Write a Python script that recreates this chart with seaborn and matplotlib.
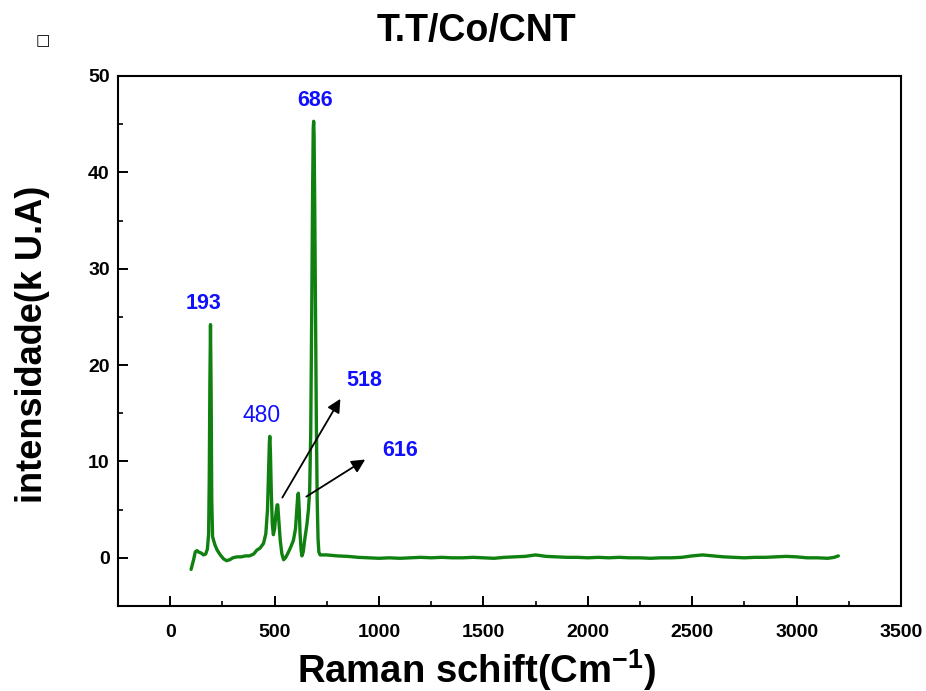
import matplotlib
matplotlib.use("Agg")
import matplotlib.pyplot as plt
import seaborn as sns
import pandas as pd
from matplotlib.ticker import MultipleLocator

# ---- data ----
raman_shift = [100, 112, 120, 128, 136, 148, 160, 170, 178, 184, 187, 190, 193, 196, 199, 203,
               208, 215, 225, 240, 255, 270, 285, 300, 320, 340, 360, 380, 400, 415, 430, 447,
               458, 466, 471, 475, 477, 480, 484, 489, 494, 500, 506, 512, 515, 520, 527, 535,
               543, 552, 562, 575, 590, 600, 606, 611, 614, 618, 622, 627, 631, 637, 645, 655,
               662, 668, 673, 678, 682, 685, 687, 689, 692, 696, 700, 704, 708, 712, 718, 730,
               750, 800, 850, 900, 950, 1000, 1050, 1100, 1150, 1200, 1250, 1300, 1350, 1400,
               1450, 1500, 1550, 1600, 1650, 1700, 1750, 1800, 1850, 1900, 1950, 2000, 2050,
               2100, 2150, 2200, 2250, 2300, 2350, 2400, 2450, 2500, 2550, 2600, 2650, 2700,
               2750, 2800, 2850, 2900, 2950, 3000, 3050, 3100, 3150, 3180, 3200]
intensity = [-1.2, -0.2, 0.6, 0.75, 0.6, 0.5, 0.3, 0.4, 0.9, 2.5, 8.0, 18.0, 24.2, 17.0, 6.0, 2.2,
             1.8, 1.3, 0.8, 0.3, -0.1, -0.3, -0.2, 0.0, 0.1, 0.1, 0.2, 0.2, 0.4, 0.8, 1.0, 1.5,
             2.5, 5.0, 9.0, 12.0, 12.6, 11.0, 7.0, 3.5, 2.4, 3.0, 4.5, 5.5, 5.5, 4.0, 1.8, 0.4,
             -0.2, 0.0, 0.4, 1.0, 1.8, 3.0, 5.0, 6.5, 6.7, 5.0, 2.5, 0.8, 0.2, 0.6, 2.0, 3.5,
             5.0, 7.0, 13.0, 26.0, 38.0, 44.5, 45.3, 44.0, 37.0, 25.0, 14.0, 6.0, 2.0, 0.6, 0.3, 0.3,
             0.3, 0.2, 0.15, 0.05, 0.0, -0.05, 0.0, -0.05, 0.0, 0.05, 0.0, 0.05, 0.0, 0.0,
             0.05, 0.0, -0.05, 0.05, 0.1, 0.15, 0.3, 0.15, 0.1, 0.05, 0.05, 0.0, 0.05,
             0.0, 0.05, 0.0, 0.0, -0.05, 0.0, 0.0, 0.05, 0.2, 0.3, 0.2, 0.1, 0.05,
             0.0, 0.05, 0.05, 0.1, 0.15, 0.1, 0.0, 0.0, -0.05, 0.05, 0.2]

peak_labels = ["193", "480", "686", "518", "616"]
peak_label_x = [158, 436, 695, 930, 1102]
peak_label_y = [26.35, 14.8, 47.5, 18.45, 11.15]
peak_label_bold = [True, False, True, True, True]

arrow_starts = [(537, 6.25), (652, 6.35)]
arrow_ends = [(815, 16.5), (934, 10.2)]

x_ticks = [0, 500, 1000, 1500, 2000, 2500, 3000, 3500]
y_ticks = [0, 10, 20, 30, 40, 50]

title = "T.T/Co/CNT"
x_label = r"Raman schift(Cm$^{\mathbf{-1}}$)"
y_label = "intensidade(k U.A)"

# ---- style ----
sns.set_style("ticks")
plt.rcParams["font.family"] = ["Liberation Sans", "DejaVu Sans"]
plt.rcParams["mathtext.fontset"] = "custom"
plt.rcParams["mathtext.rm"] = "Liberation Sans"
plt.rcParams["mathtext.bf"] = "Liberation Sans:bold"
plt.rcParams["text.color"] = "black"
plt.rcParams["axes.labelcolor"] = "black"
plt.rcParams["xtick.color"] = "black"
plt.rcParams["ytick.color"] = "black"

fig = plt.figure(figsize=(9.26, 6.91), dpi=100)
ax = fig.add_axes([118 / 926, 1 - 606 / 691, (901 - 118) / 926, (606 - 76) / 691])

df = pd.DataFrame({"shift": raman_shift, "intensity": intensity})
sns.lineplot(data=df, x="shift", y="intensity", ax=ax, color="#108010",
             linewidth=2.4, sort=False, estimator=None)

ax.set_xlim(-250, 3500)
ax.set_ylim(-5, 50)
ax.set_xticks(x_ticks)
ax.set_yticks(y_ticks)
ax.xaxis.set_minor_locator(MultipleLocator(250))
ax.yaxis.set_minor_locator(MultipleLocator(5))

for s in ax.spines.values():
    s.set_visible(True)
    s.set_linewidth(1.5)
    s.set_color("black")

ax.tick_params(axis="both", which="major", direction="in", length=7, width=1.4,
               labelsize=14, color="black", labelcolor="black")
ax.tick_params(axis="both", which="minor", direction="in", length=3.5, width=1.2, color="black")
ax.tick_params(axis="x", which="major", pad=13)
ax.tick_params(axis="y", which="major", pad=6)
for lab in ax.get_xticklabels() + ax.get_yticklabels():
    lab.set_fontweight("bold")

ax.set_xlabel(x_label, fontsize=27.5, fontweight="bold", color="black")
ax.set_ylabel(y_label, fontsize=26, fontweight="bold", color="black")
ax.xaxis.set_label_coords((477 - 118) / 783, (606 - 647) / 530)
ax.yaxis.set_label_coords((50 - 118) / 783, (606 - 344) / 530)

fig.text(476 / 926, 1 - 31 / 691, title, ha="center", va="center",
         fontsize=27, fontweight="bold", color="black")
fig.text(43 / 926, 1 - 41 / 691, "\u25a1", ha="center", va="center",
         fontsize=11, family=["DejaVu Sans"], color="black")

for lab, lx, ly, bold in zip(peak_labels, peak_label_x, peak_label_y, peak_label_bold):
    ax.text(lx, ly, lab, ha="center", va="center", color="#1010ff",
            fontsize=15.5 if bold else 16.5, fontweight="bold" if bold else "normal")

for (sx, sy), (ex, ey) in zip(arrow_starts, arrow_ends):
    ax.annotate("", xy=(ex, ey), xytext=(sx, sy),
                arrowprops=dict(arrowstyle="-|>", color="black", lw=1.3,
                                mutation_scale=20, shrinkA=0, shrinkB=0))

fig.savefig("out.png", dpi=100)
